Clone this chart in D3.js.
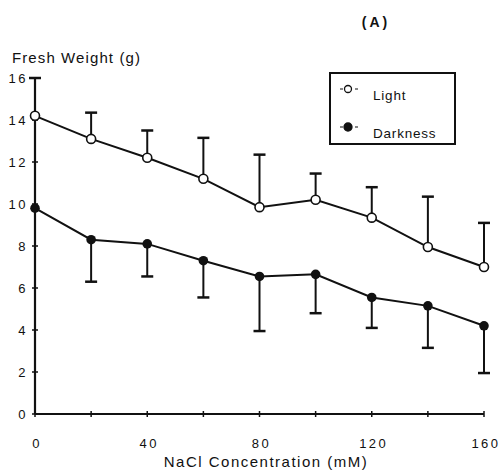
<!DOCTYPE html>
<html>
<head>
<meta charset="utf-8">
<script src="https://cdn.jsdelivr.net/npm/d3@7"></script>
<style>
  body { margin: 0; background: #fff; }
  text { font-family: "Liberation Sans", Arial, sans-serif; fill: #111; }
</style>
</head>
<body>
<div id="chart"></div>
<script>
// NaCl concentrations (mM)
const nacl = [0, 20, 40, 60, 80, 100, 120, 140, 160];
// fresh weight (g), upper error bars for Light
const light = [14.2, 13.1, 12.2, 11.2, 9.85, 10.2, 9.35, 7.95, 7.0];
const lightErr = [1.8, 1.25, 1.3, 1.95, 2.5, 1.25, 1.45, 2.4, 2.1];
// lower error bars for Darkness
const dark = [9.8, 8.3, 8.1, 7.3, 6.55, 6.65, 5.55, 5.15, 4.2];
const darkErr = [0, 2.0, 1.55, 1.75, 2.6, 1.85, 1.45, 2.0, 2.25];
const yTicks = [0, 2, 4, 6, 8, 10, 12, 14, 16];
const xLabels = [0, 40, 80, 120, 160];

let W = 504, H = 475;
let margin = {top: 78, right: 20, bottom: 62, left: 35};

let svg = d3.select("#chart").append("svg")
  .attr("width", W).attr("height", H);

let x = d3.scaleLinear().domain([0, 160]).range([margin.left, 484]);
let y = d3.scaleLinear().domain([0, 16]).range([414, margin.top]);

// axes lines
svg.append("line").attr("x1", x(0)).attr("x2", x(160))
  .attr("y1", y(0)).attr("y2", y(0))
  .attr("stroke", "#111").attr("stroke-width", 2);
svg.append("line").attr("x1", x(0)).attr("x2", x(0))
  .attr("y1", y(0)).attr("y2", y(16))
  .attr("stroke", "#111").attr("stroke-width", 2.2);

// y ticks (cross style)
svg.selectAll(".yt").data(yTicks).enter().append("line")
  .attr("x1", x(0) - 3).attr("x2", x(0) + 3)
  .attr("y1", d => y(d)).attr("y2", d => y(d))
  .attr("stroke", "#111").attr("stroke-width", 1.5);
svg.selectAll(".yl").data(yTicks).enter().append("text")
  .attr("x", x(0) - 7).attr("y", d => y(d) + 5)
  .attr("text-anchor", "end")
  .style("font-size", "13px").style("letter-spacing", "2.5px")
  .text(d => d);

// x ticks
svg.selectAll(".xt").data(nacl).enter().append("line")
  .attr("x1", d => x(d)).attr("x2", d => x(d))
  .attr("y1", y(0) - 3).attr("y2", y(0) + 3)
  .attr("stroke", "#111").attr("stroke-width", 1.5);
svg.selectAll(".xl").data(xLabels).enter().append("text")
  .attr("x", d => x(d) + 2).attr("y", 448)
  .attr("text-anchor", "middle")
  .style("font-size", "13px").style("letter-spacing", "2.5px")
  .text(d => d);

// axis titles
svg.append("text").attr("x", 12).attr("y", 63)
  .style("font-size", "15px").style("letter-spacing", "1.1px").text("Fresh Weight (g)");
svg.append("text").attr("x", 266).attr("y", 467)
  .attr("text-anchor", "middle")
  .style("font-size", "15px").style("letter-spacing", "1.5px").text("NaCl Concentration (mM)");
svg.append("text").attr("x", 376).attr("y", 27)
  .attr("text-anchor", "middle")
  .style("font-size", "14px").style("font-weight", "bold")
  .style("letter-spacing", "3px").text("(A)");

let line = d3.line().x((d, i) => x(nacl[i])).y(d => y(d));

// error bars
function errBars(vals, errs, dir) {
  let g = svg.append("g").attr("stroke", "#111");
  nacl.forEach((c, i) => {
    if (!errs[i]) return;
    let end = vals[i] + dir * errs[i];
    g.append("line").attr("x1", x(c)).attr("x2", x(c))
      .attr("y1", y(vals[i])).attr("y2", y(end)).attr("stroke-width", 2);
    g.append("line").attr("x1", x(c) - 6).attr("x2", x(c) + 6)
      .attr("y1", y(end)).attr("y2", y(end)).attr("stroke-width", 2.5);
  });
}
errBars(light, lightErr, 1);
errBars(dark, darkErr, -1);

svg.append("path").datum(light).attr("d", line)
  .attr("fill", "none").attr("stroke", "#111").attr("stroke-width", 2);
svg.append("path").datum(dark).attr("d", line)
  .attr("fill", "none").attr("stroke", "#111").attr("stroke-width", 2);

svg.selectAll(".pl").data(light).enter().append("circle")
  .attr("cx", (d, i) => x(nacl[i])).attr("cy", d => y(d)).attr("r", 4.5)
  .attr("fill", "#fff").attr("stroke", "#111").attr("stroke-width", 1.6);
svg.selectAll(".pd").data(dark).enter().append("circle")
  .attr("cx", (d, i) => x(nacl[i])).attr("cy", d => y(d)).attr("r", 4.8)
  .attr("fill", "#111");

// legend
let lg = svg.append("g").attr("transform", "translate(330,73)");
lg.append("rect").attr("width", 125).attr("height", 71)
  .attr("fill", "#fff").attr("stroke", "#111").attr("stroke-width", 2);
[["Light", false, 16], ["Darkness", true, 54]].forEach(([name, filled, ly]) => {
  lg.append("line").attr("x1", 10).attr("x2", 28).attr("y1", ly).attr("y2", ly)
    .attr("stroke", "#111").attr("stroke-width", 1.2).attr("stroke-dasharray", "3,12");
  lg.append("circle").attr("cx", 18).attr("cy", ly).attr("r", filled ? 4 : 3.5)
    .attr("fill", filled ? "#111" : "#fff").attr("stroke", "#111").attr("stroke-width", 1.3);
  lg.append("text").attr("x", 43).attr("y", ly + 11)
    .style("font-size", "13.5px").style("letter-spacing", "0.8px").text(name);
});
</script>
</body>
</html>
